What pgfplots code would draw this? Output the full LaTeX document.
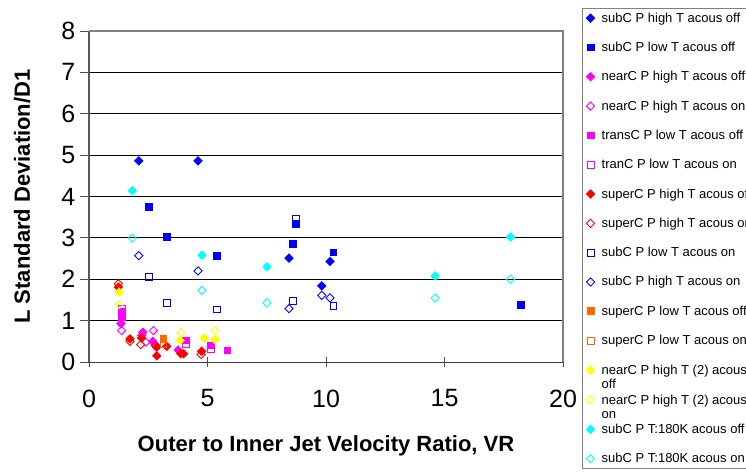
\documentclass[border=0pt]{standalone}
\usepackage{pgfplots}
\pgfplotsset{compat=1.18}
\usepackage{fontspec}
\setmainfont{Liberation Sans}
\definecolor{cblue}{RGB}{0,0,255}
\definecolor{cmag}{RGB}{255,0,255}
\definecolor{cred}{RGB}{255,0,0}
\definecolor{cyel}{RGB}{255,255,0}
\definecolor{ccyan}{RGB}{0,255,255}
\definecolor{corange}{RGB}{255,102,0}
\definecolor{frame}{RGB}{128,128,128}
\newcommand{\twoline}[2]{\raisebox{0pt}[\height][0pt]{\begin{tabular}[t]{@{}l@{}}#1\\#2\end{tabular}}}
\begin{document}
\begin{tikzpicture}[x=1pt,y=1pt]
\begin{axis}[
  at={(89pt,112pt)}, anchor=south west,
  scale only axis, width=474pt, height=331pt,
  xmin=0, xmax=20, ymin=0, ymax=8,
  xtick={0,5,10,15,20}, ytick={0,1,...,8},
  axis x line*=bottom, axis y line*=left,
  x axis line style={-, black!75, line width=1pt},
  y axis line style={-, black!65, line width=1.5pt},
  ymajorgrids, major grid style={black, line width=0.8pt},
  xtick style={black!70, line width=0.8pt},
  ytick style={black!70, line width=0.8pt},
  x tick style={/pgfplots/major tick length=10pt},
  y tick style={/pgfplots/major tick length=9pt},
  xtick align=center, ytick align=outside,
  /pgf/number format/assume math mode=true,
  tick label style={font=\fontsize{25}{30}\selectfont},
  xticklabel style={yshift=-22pt},
  yticklabel style={xshift=-6pt},
  xlabel={\bfseries Outer to Inner Jet Velocity Ratio, VR},
  ylabel={\bfseries L Standard Deviation/D1},
  label style={font=\fontsize{22}{26}\selectfont},
  xlabel style={at={(axis description cs:0.5,0)}, anchor=center, yshift=-84pt},
  ylabel style={at={(axis description cs:0,0.5)}, anchor=center, rotate=0, yshift=67pt},
  clip=false,
  legend cell align=left,
  legend style={at={(1.040,1.069)}, anchor=north west, draw=frame, line width=1pt, fill=white,
    font=\fontsize{13}{14}\selectfont, row sep=16.4pt, column sep=6pt, inner xsep=4pt, inner ysep=3pt,
    nodes={inner sep=1pt}},
  legend image code/.code={\draw[#1] plot coordinates {(0pt,0pt)};},
  every axis plot/.append style={only marks, line width=0.9pt},
]
% 1 subCP high T acous off
\addplot[cblue, mark=square*, mark options={rotate=45, fill=cblue}, mark size=2.9pt] coordinates {(2.10,4.86) (4.60,4.86) (8.44,2.51) (10.17,2.43) (9.82,1.84)};
\addlegendentry{subC P  high T acous off}
% 2 subCP low T acous off
\addplot[cblue, mark=square*, mark options={fill=cblue}, mark size=3.4pt] coordinates {(2.53,3.74) (3.30,3.03) (5.39,2.57) (8.72,3.34) (8.62,2.86) (10.31,2.65) (18.23,1.38)};
\addlegendentry{subC P low  T acous off}
% 3 nearCP high T acous off
\addplot[cmag, mark=square*, mark options={rotate=45, fill=cmag}, mark size=2.9pt] coordinates {(1.35,0.93) (2.27,0.72) (2.69,0.50) (3.76,0.29) (2.22,0.64)};
\addlegendentry{nearC P high  T acous off}
% 4 nearCP high T acous on
\addplot[cmag, mark=square, mark options={rotate=45, fill=white}, mark size=2.9pt] coordinates {(1.38,0.76) (2.72,0.76) (2.79,0.42) (2.40,0.48)};
\addlegendentry{nearC P high  T acous on}
% 5 transCP low T acous off
\addplot[cmag, mark=square*, mark options={fill=cmag}, mark size=3.4pt] coordinates {(1.38,1.21) (1.38,1.08) (4.10,0.52) (5.14,0.40) (5.84,0.28)};
\addlegendentry{transC P low  T acous off}
% 6 tranCP low T acous on
\addplot[cmag, mark=square, mark options={fill=white}, mark size=3.4pt] coordinates {(1.38,1.28) (4.10,0.44) (5.14,0.32)};
\addlegendentry{tranC P low  T acous on}
% 7 superCP high T acous off
\addplot[cred, mark=square*, mark options={rotate=45, fill=cred}, mark size=2.9pt] coordinates {(1.24,1.81) (1.73,0.56) (2.22,0.58) (2.86,0.36) (2.86,0.15) (3.28,0.38) (3.87,0.20) (3.99,0.20) (4.75,0.26)};
\addlegendentry{superC P high  T acous off}
% 8 superCP high T acous on
\addplot[cred, mark=square, mark options={rotate=45, fill=white}, mark size=2.9pt] coordinates {(1.24,1.89) (1.73,0.50) (2.18,0.42) (4.73,0.18) (2.80,0.40)};
\addlegendentry{superC P high  T acous on}
% 9 subCP low T acous on
\addplot[cblue, mark=square, mark options={fill=white}, mark size=3.4pt] coordinates {(2.53,2.05) (3.30,1.42) (5.39,1.27) (8.72,3.47) (8.62,1.48) (10.31,1.36)};
\addlegendentry{subC P low  T acous on}
% 10 subCP high T acous on
\addplot[cblue, mark=square, mark options={rotate=45, fill=white}, mark size=2.9pt] coordinates {(2.10,2.57) (4.60,2.20) (8.44,1.29) (9.82,1.61) (10.17,1.55)};
\addlegendentry{subC P high  T acous on}
% 11 superCP low T acous off
\addplot[corange, mark=square*, mark options={fill=corange}, mark size=3.4pt] coordinates {(3.14,0.56)};
\addlegendentry{superC P low  T acous off}
% 12 superCP low T acous on
\addplot[corange, mark=square, mark options={fill=white}, mark size=3.4pt] coordinates {(3.14,0.44)};
\addlegendentry{superC P low  T acous on}
% 13 nearCP high T (2) acous off
\addplot[cyel, mark=square*, mark options={rotate=45, fill=cyel}, mark size=2.9pt] coordinates {(1.28,1.69) (3.85,0.52) (4.87,0.58) (5.32,0.54)};
\addlegendentry{\twoline{nearC P high T (2) acous}{off}}
% 14 nearCP high T (2) acous on
\addplot[cyel, mark=square, mark options={rotate=45, fill=white}, mark size=2.9pt] coordinates {(1.27,1.39) (3.89,0.71) (5.32,0.76)};
\addlegendentry{\twoline{nearC P high T (2) acous}{on}}
% 15 subCP T:180K acous off
\addplot[ccyan, mark=square*, mark options={rotate=45, fill=ccyan}, mark size=2.9pt] coordinates {(1.83,4.14) (4.77,2.58) (7.51,2.30) (14.61,2.08) (17.79,3.02)};
\addlegendentry{subC P T:180K acous off}
% 16 subCP T:180K acous on
\addplot[ccyan, mark=square, mark options={rotate=45, fill=white}, mark size=2.9pt] coordinates {(1.83,2.99) (4.77,1.73) (7.51,1.43) (14.61,1.55) (17.79,2.00)};
\addlegendentry{subC P T:180K acous on}
\draw[frame, line width=1.2pt] (rel axis cs:0,1) -- (rel axis cs:1,1) -- (rel axis cs:1,0);
\end{axis}
\pgfresetboundingbox
\path (0,0) rectangle (746,474);
\end{tikzpicture}
\end{document}
